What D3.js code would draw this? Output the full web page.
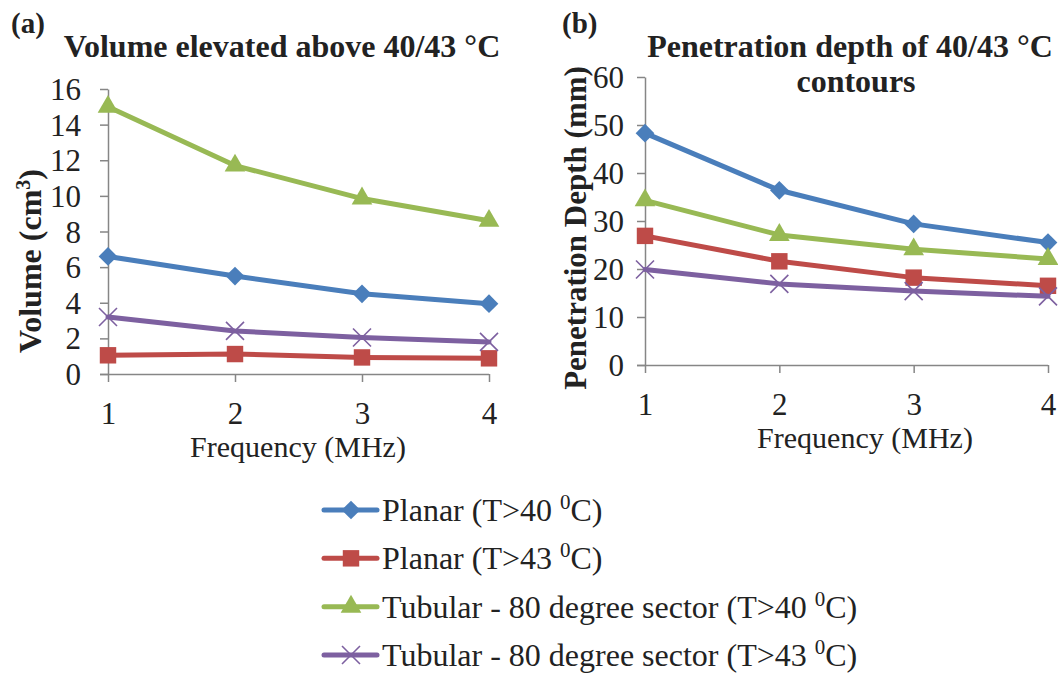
<!DOCTYPE html>
<html><head><meta charset="utf-8">
<script src="https://cdn.jsdelivr.net/npm/d3@7"></script>
<style>body{margin:0;background:#fff;} svg{display:block;} text{font-family:"Liberation Serif","Times New Roman",serif;fill:#222;}</style>
</head><body>
<svg id="c" width="1058" height="675"></svg>
<script>
const frequencies = [1, 2, 3, 4];
const seriesNames = ["Planar (T>40 ", "Planar (T>43 ", "Tubular - 80 degree sector (T>40 ", "Tubular - 80 degree sector (T>43 "];
const seriesColors = ["#4A7EBB", "#BE4B48", "#98B954", "#7D60A0"];
const seriesMarkers = ["diamond", "square", "triangle", "x"];
// Panel (a): volume (cm^3)
const volPlanar40 = [6.6, 5.5, 4.5, 3.95];
const volPlanar43 = [1.05, 1.12, 0.93, 0.88];
const volTubular40 = [15.0, 11.7, 9.85, 8.6];
const volTubular43 = [3.2, 2.42, 2.05, 1.8];
// Panel (b): penetration depth (mm)
const depPlanar40 = [48.3, 36.4, 29.4, 25.5];
const depPlanar43 = [26.9, 21.6, 18.2, 16.5];
const depTubular40 = [34.3, 27.1, 24.1, 22.1];
const depTubular43 = [19.9, 16.9, 15.4, 14.3];
const volTicks = [0, 2, 4, 6, 8, 10, 12, 14, 16];
const depTicks = [0, 10, 20, 30, 40, 50, 60];

const svg = d3.select("#c");
const axisColor = "#868686";
const tickFont = 31;

function marker(g, type, color) {
  if (type === "diamond") {
    g.append("path").attr("d", d3.symbol().type(d3.symbolSquare).size(175)()).attr("transform", "rotate(45)").attr("fill", color);
  } else if (type === "square") {
    g.append("path").attr("d", d3.symbol().type(d3.symbolSquare).size(270)()).attr("fill", color);
  } else if (type === "triangle") {
    g.append("path").attr("d", d3.symbol().type(d3.symbolTriangle).size(185)()).attr("fill", color);
  } else {
    g.append("path").attr("d", "M-9,-9L9,9M-9,9L9,-9").attr("stroke", color).attr("stroke-width", 1.6).attr("fill", "none");
  }
}

function panel(opts) {
  const x = d3.scalePoint().domain(frequencies).range([opts.x0, opts.x1]);
  const y = d3.scaleLinear().domain([0, opts.ymax]).range([opts.y0, opts.y1]);
  const g = svg.append("g");
  const ya = g.append("g").attr("transform", `translate(${opts.x0},0)`)
    .call(d3.axisLeft(y).tickValues(opts.ticks).tickSize(8).tickPadding(opts.ypad).tickSizeOuter(0));
  ya.select(".domain").attr("stroke", axisColor).attr("stroke-width", 1.5);
  ya.selectAll(".tick line").attr("stroke", axisColor).attr("stroke-width", 1.5);
  ya.selectAll("text").attr("font-size", tickFont).attr("font-family", "Liberation Serif").attr("fill", "#222").attr("dy", "0.34em");
  const xa = g.append("g").attr("transform", `translate(0,${opts.y0})`)
    .call(d3.axisBottom(x).tickSize(8).tickPadding(18).tickSizeOuter(0));
  xa.select(".domain").attr("stroke", axisColor).attr("stroke-width", 1.5).attr("d", `M${opts.x0 - 8},0.5H${opts.x1}`);
  xa.selectAll(".tick line").attr("stroke", axisColor).attr("stroke-width", 1.5);
  xa.selectAll("text").attr("font-size", tickFont).attr("font-family", "Liberation Serif").attr("fill", "#222").attr("y", 39).attr("dy", "0.34em");
  opts.series.forEach((vals, i) => {
    const line = d3.line().x((d, j) => x(frequencies[j])).y(d => y(d));
    g.append("path").datum(vals).attr("d", line).attr("fill", "none")
      .attr("stroke", seriesColors[i]).attr("stroke-width", 5).attr("stroke-linejoin", "round").attr("stroke-linecap", "round");
    vals.forEach((v, j) => {
      const mg = g.append("g").attr("transform", `translate(${x(frequencies[j])},${y(v)})`);
      marker(mg, seriesMarkers[i], seriesColors[i]);
    });
  });
  g.append("text").attr("x", opts.xtx).attr("y", opts.y0 + 73).attr("text-anchor", "middle")
    .attr("font-size", 30).attr("dy", "0.34em").text("Frequency (MHz)");
  return g;
}

// Panel (a)
panel({x0: 108, x1: 489, y0: 374, y1: 89, ymax: 16, ticks: volTicks, xtx: 298, ypad: 19,
  series: [volPlanar40, volPlanar43, volTubular40, volTubular43]});
svg.append("text").attr("x", 11).attr("y", 33).attr("font-size", 29).attr("font-weight", "bold").text("(a)");
svg.append("text").attr("x", 282).attr("y", 57).attr("text-anchor", "middle").attr("font-size", 32).attr("font-weight", "bold").text("Volume elevated above 40/43 °C");
const yta = svg.append("text").attr("transform", "translate(41,261) rotate(-90)").attr("text-anchor", "middle").attr("font-size", 32).attr("font-weight", "bold");
yta.append("tspan").text("Volume (cm");
yta.append("tspan").attr("font-size", 20).attr("dy", -11).text("3");
yta.append("tspan").attr("dy", 11).text(")");

// Panel (b)
panel({x0: 645, x1: 1048, y0: 365, y1: 77, ymax: 60, ticks: depTicks, xtx: 865, ypad: 13,
  series: [depPlanar40, depPlanar43, depTubular40, depTubular43]});
svg.append("text").attr("x", 562).attr("y", 33).attr("font-size", 29).attr("font-weight", "bold").text("(b)");
svg.append("text").attr("x", 850).attr("y", 57).attr("text-anchor", "middle").attr("font-size", 32).attr("font-weight", "bold").text("Penetration depth of 40/43 °C");
svg.append("text").attr("x", 856).attr("y", 92).attr("text-anchor", "middle").attr("font-size", 32).attr("font-weight", "bold").text("contours");
svg.append("text").attr("transform", "translate(586,228) rotate(-90)").attr("text-anchor", "middle").attr("font-size", 31).attr("font-weight", "bold").text("Penetration Depth (mm)");

// Legend
const legY = d3.scalePoint().domain(d3.range(seriesNames.length)).range([510, 655]);
seriesNames.forEach((name, i) => {
  const lg = svg.append("g").attr("transform", `translate(0,${legY(i)})`);
  lg.append("line").attr("x1", 324).attr("x2", 377).attr("y1", 0).attr("y2", 0)
    .attr("stroke", seriesColors[i]).attr("stroke-width", 5).attr("stroke-linecap", "round");
  marker(lg.append("g").attr("transform", "translate(351,0)"), seriesMarkers[i], seriesColors[i]);
  const t = lg.append("text").attr("x", 382).attr("y", 0).attr("dy", "0.34em").attr("font-size", 32);
  t.append("tspan").text(name);
  t.append("tspan").attr("font-size", 21).attr("dy", -12).text("0");
  t.append("tspan").attr("dy", 12).text("C)");
});
</script>
</body></html>
